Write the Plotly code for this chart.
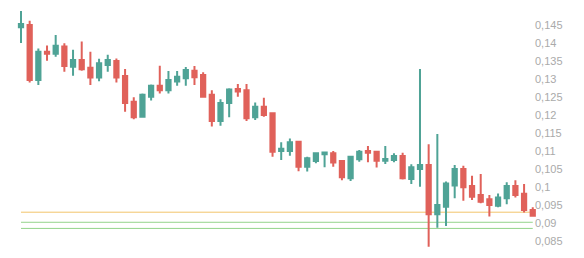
import plotly.graph_objects as go

opens = [0.1444, 0.1450, 0.1297, 0.1376, 0.1370, 0.1390, 0.1334, 0.1353, 0.1331, 0.1304,
         0.1339, 0.1350, 0.1308, 0.1237, 0.1195, 0.1251, 0.1281, 0.1269, 0.1293, 0.1302,
         0.1323, 0.1311, 0.1256, 0.1183, 0.1233, 0.1272, 0.1269, 0.1194, 0.1223, 0.1205,
         0.1100, 0.1100, 0.1126, 0.1056, 0.1072, 0.1091, 0.1094, 0.1072, 0.1024, 0.1077,
         0.1100, 0.1098, 0.1073, 0.1075, 0.1086, 0.1022, 0.1050, 0.1061, 0.0924, 0.0945,
         0.1004, 0.1050, 0.1003, 0.0978, 0.0966, 0.0948, 0.0969, 0.1003, 0.0981, 0.0936]
highs = [0.1489, 0.1462, 0.1385, 0.1393, 0.1422, 0.1399, 0.1381, 0.1404, 0.1376, 0.1356,
         0.1367, 0.1357, 0.1328, 0.1249, 0.1260, 0.1285, 0.1337, 0.1322, 0.1322, 0.1333,
         0.1336, 0.1319, 0.1269, 0.1244, 0.1274, 0.1286, 0.1286, 0.1235, 0.1248, 0.1206,
         0.1124, 0.1135, 0.1128, 0.1084, 0.1096, 0.1097, 0.1100, 0.1075, 0.1087, 0.1103,
         0.1114, 0.1100, 0.1114, 0.1094, 0.1095, 0.1063, 0.1328, 0.1119, 0.1147, 0.1015,
         0.1061, 0.1059, 0.1031, 0.1036, 0.0978, 0.0982, 0.1013, 0.1019, 0.1008, 0.0944]
lows = [0.1400, 0.1290, 0.1283, 0.1351, 0.1362, 0.1320, 0.1309, 0.1323, 0.1283, 0.1294,
        0.1320, 0.1290, 0.1209, 0.1188, 0.1193, 0.1240, 0.1260, 0.1260, 0.1281, 0.1281,
        0.1283, 0.1249, 0.1168, 0.1170, 0.1194, 0.1251, 0.1183, 0.1186, 0.1195, 0.1084,
        0.1075, 0.1087, 0.1044, 0.1043, 0.1066, 0.1055, 0.1056, 0.1019, 0.1017, 0.1070,
        0.1069, 0.1054, 0.1064, 0.1069, 0.1021, 0.1008, 0.1001, 0.0834, 0.0887, 0.0892,
        0.0969, 0.0962, 0.0964, 0.0955, 0.0918, 0.0944, 0.0952, 0.0971, 0.0929, 0.0918]
closes = [0.1453, 0.1297, 0.1376, 0.1370, 0.1392, 0.1336, 0.1353, 0.1327, 0.1304, 0.1344,
          0.1353, 0.1304, 0.1233, 0.1194, 0.1256, 0.1281, 0.1269, 0.1297, 0.1306, 0.1325,
          0.1305, 0.1251, 0.1183, 0.1233, 0.1271, 0.1265, 0.1191, 0.1223, 0.1200, 0.1098,
          0.1106, 0.1124, 0.1056, 0.1080, 0.1094, 0.1096, 0.1068, 0.1027, 0.1084, 0.1098,
          0.1095, 0.1073, 0.1078, 0.1086, 0.1024, 0.1055, 0.1061, 0.0924, 0.0950, 0.1010,
          0.1050, 0.0999, 0.0973, 0.0959, 0.0950, 0.0971, 0.1003, 0.0978, 0.0936, 0.0920]
idx = list(range(len(opens)))

tick_values = [0.085, 0.09, 0.095, 0.1, 0.105, 0.11, 0.115, 0.12, 0.125, 0.13, 0.135, 0.14, 0.145]

level_values = [0.0930, 0.0902, 0.0885]
level_colors = ["#F2C46A", "#93D38A", "#93D38A"]

UP = "#4FA396"
DOWN = "#E0615A"

fig = go.Figure()
fig.add_trace(go.Candlestick(
    x=idx, open=opens, high=highs, low=lows, close=closes,
    increasing=dict(line=dict(color=UP, width=2), fillcolor=UP),
    decreasing=dict(line=dict(color=DOWN, width=2), fillcolor=DOWN),
    whiskerwidth=0, showlegend=False,
))

for v, c in zip(level_values, level_colors):
    fig.add_shape(type="line", xref="x", yref="y", x0=idx[0], x1=idx[-1], y0=v, y1=v,
                  line=dict(color=c, width=1), layer="below")

fig.update_layout(
    width=584, height=258,
    margin=dict(l=0, r=47, t=0, b=0),
    paper_bgcolor="white", plot_bgcolor="white",
    separators=", ",
    showlegend=False,
    xaxis=dict(visible=False, range=[-2.421, 59.49], rangeslider=dict(visible=False)),
    yaxis=dict(side="right", range=[0.08028, 0.15194], tickmode="array", tickvals=tick_values,
               showgrid=False, zeroline=False, showline=False, ticks="",
               ticklabelstandoff=-3,
               tickfont=dict(family="Liberation Sans, Arial, sans-serif", size=11, color="#AAAAAA")),
)

fig.write_html("out.html")
